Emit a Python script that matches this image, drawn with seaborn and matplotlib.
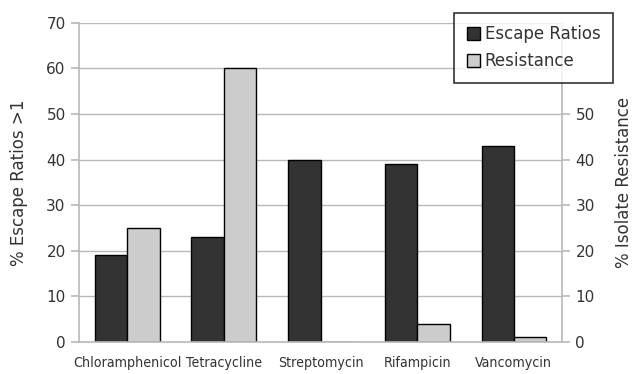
import pandas as pd
import numpy as np
import matplotlib
matplotlib.use("Agg")
import matplotlib.pyplot as plt
import seaborn as sns

# dados
antibiotics = ["Chloramphenicol", "Tetracycline", "Streptomycin", "Rifampicin", "Vancomycin"]
escape_ratios = [19, 23, 40, 39, 43]
resistance = [25, 60, 0, 4, 1]

df = pd.DataFrame({
    "antibiotic": antibiotics * 2,
    "value": escape_ratios + resistance,
    "series": ["Escape Ratios"] * len(antibiotics) + ["Resistance"] * len(antibiotics),
})

sns.set_style("white")
plt.rcParams['font.family'] = ['DejaVu Sans']
grey = "#b8b8b8"
txt = "#333333"

fig = plt.figure(figsize=(6.36, 3.74), dpi=100)
ax = fig.add_axes([0.124, 0.086, 0.76, 0.853])

sns.barplot(data=df, x="antibiotic", y="value", hue="series", ax=ax,
            palette=["#333333", "#cccccc"], edgecolor="black", linewidth=1,
            width=0.67, saturation=1, legend=True)

ax.set_ylim(0, 70)
ax.set_xlim(-0.5, 4.5)
ax.set_yticks(range(0, 71, 10))
ax.yaxis.grid(True, color=grey, linewidth=1)
ax.set_axisbelow(True)
ax.set_xlabel("")
ax.set_ylabel("% Escape Ratios >1", fontsize=12, color=txt)
ax.yaxis.set_label_coords(-0.106, 0.5)

# separadores das categorias
ax.set_xticks(np.arange(-0.5, 5, 1), minor=True)
ax.tick_params(axis="x", which="major", length=0, pad=10, labelsize=10.2, labelcolor=txt)
ax.tick_params(axis="x", which="minor", length=6, color=grey, width=1.2)
ax.tick_params(axis="y", length=6, color=grey, width=1.2, labelsize=11, labelcolor=txt)
for lbl in ax.get_xticklabels():
    lbl.set_fontstretch("condensed")

for side in ["left", "bottom", "right"]:
    ax.spines[side].set_color(grey)
    ax.spines[side].set_linewidth(1.2)
ax.spines["top"].set_visible(False)

ax2 = ax.twinx()
ax2.set_ylim(0, 70)
ax2.set_yticks(range(0, 51, 10))
ax2.tick_params(axis="y", length=6, color=grey, width=1.2, labelsize=11, labelcolor=txt)
ax2.set_ylabel("% Isolate Resistance", fontsize=12, color=txt)
ax2.yaxis.set_label_coords(1.11, 0.5)
for side in ["left", "bottom", "right", "top"]:
    ax2.spines[side].set_visible(False)

handles, labels = ax.get_legend_handles_labels()
ax.get_legend().remove()
leg = fig.legend(handles, labels, loc="upper right", bbox_to_anchor=(0.964, 0.966),
                 borderaxespad=0, fontsize=12, frameon=True, fancybox=False,
                 edgecolor="black", handlelength=0.8, handleheight=0.8,
                 handletextpad=0.3, borderpad=0.75, labelspacing=0.55)
leg.get_frame().set_linewidth(1.2)
for t in leg.get_texts():
    t.set_color(txt)

fig.savefig("out.png", dpi=100)
